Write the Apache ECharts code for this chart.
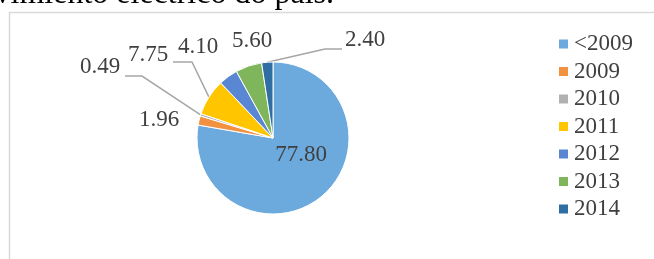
<!DOCTYPE html>
<html>
<head>
<meta charset="utf-8">
<script src="https://cdn.jsdelivr.net/npm/echarts@6/dist/echarts.min.js"></script>
<style>
html,body{margin:0;padding:0;background:#fff;}
#chart{width:654px;height:259px;}
</style>
</head>
<body>
<div id="chart"></div>
<script>
// ---- data ----
const categories = ['<2009', '2009', '2010', '2011', '2012', '2013', '2014'];
const values = [77.80, 1.96, 0.49, 7.75, 4.10, 5.60, 2.40];
const captionText = 'vimiento eléctrico do país.';

// ---- styles / layout ----
const colors = ['#6CA9DC', '#F2913F', '#B1B1B1', '#FFC600', '#5A87D3', '#80B65B', '#2E6EA2'];
const pieCenter = [273, 138];
const pieRadius = 76;
// label centres [x, y]
const labelSpots = [[301, 155], [159, 120], [100, 67], [148, 55], [198, 47], [252, 41], [365, 40]];
// leader line: elbow and end points (null = no leader)
const leaders = [null, null, [[142, 76], [125, 76]], [[192, 62], [173, 62]], null, null, [[325, 49], [342, 49]]];

const total = values.reduce((a, b) => a + b, 0);
function edgePoint(i) {
  let before = 0;
  for (let k = 0; k < i; k++) before += values[k];
  const mid = (before + values[i] / 2) / total * 2 * Math.PI;
  return [pieCenter[0] + pieRadius * Math.sin(mid), pieCenter[1] - pieRadius * Math.cos(mid)];
}

const chart = echarts.init(document.getElementById('chart'));
chart.setOption({
  animation: false,
  color: colors,
  graphic: [
    {
      type: 'rect',
      shape: { x: 9.5, y: 12.5, width: 700, height: 300 },
      style: { fill: 'none', stroke: '#D9D9D9', lineWidth: 1.5 }
    },
    {
      type: 'text',
      x: 334, y: 11,
      style: {
        text: captionText,
        font: '32px "Liberation Serif"',
        fill: '#000',
        textAlign: 'right',
        textVerticalAlign: 'bottom'
      }
    }
  ],
  legend: {
    orient: 'vertical',
    left: 552,
    top: 27.5,
    icon: 'rect',
    itemWidth: 11,
    itemHeight: 11,
    itemGap: 4.5,
    itemTextGap: 5,
    data: categories,
    textStyle: { fontFamily: 'Liberation Serif', fontSize: 23, lineHeight: 23, color: '#404040' }
  },
  series: [{
    type: 'pie',
    center: pieCenter,
    radius: pieRadius,
    startAngle: 90,
    clockwise: true,
    avoidLabelOverlap: false,
    itemStyle: { borderColor: '#fff', borderWidth: 1 },
    label: {
      show: true,
      position: 'outside',
      fontFamily: 'Liberation Serif',
      fontSize: 23,
      color: '#404040',
      formatter: p => p.value.toFixed(2)
    },
    labelLine: { show: true, length: 10, length2: 10, lineStyle: { color: '#A6A6A6', width: 1.5 } },
    labelLayout: function (params) {
      const i = params.dataIndex;
      const s = labelSpots[i];
      const out = { x: s[0], y: s[1], align: 'center', verticalAlign: 'middle' };
      if (leaders[i]) {
        out.labelLinePoints = [edgePoint(i), leaders[i][0], leaders[i][1]];
      }
      return out;
    },
    data: categories.map((c, i) => ({
      name: c,
      value: values[i],
      labelLine: { show: !!leaders[i] }
    }))
  }]
});
</script>
</body>
</html>
